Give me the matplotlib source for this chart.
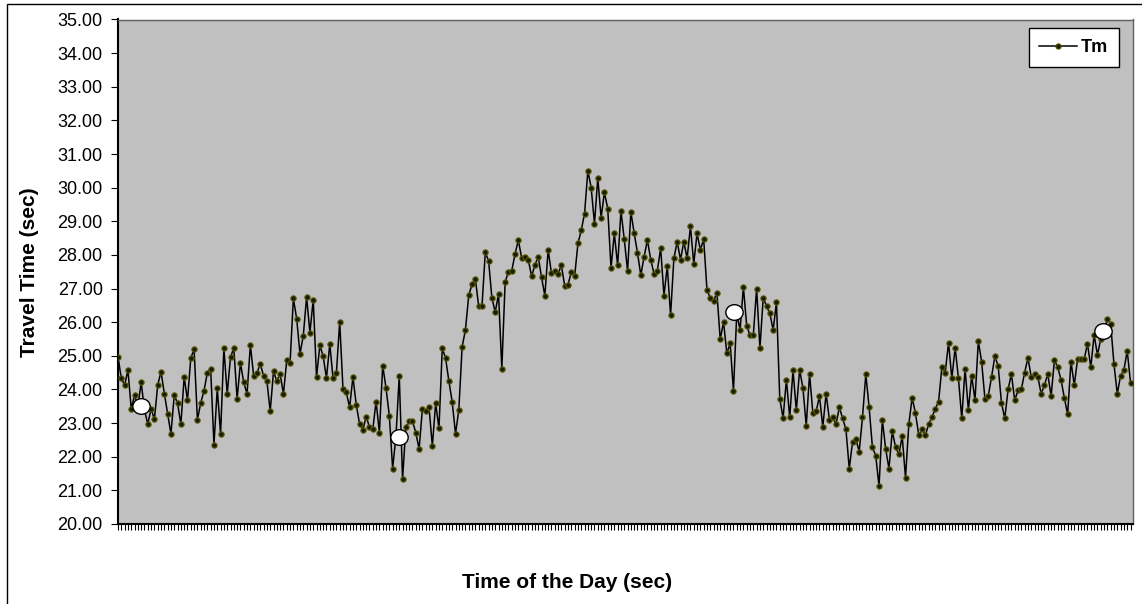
import numpy as np
import matplotlib
matplotlib.use('Agg')
import matplotlib.pyplot as plt
from matplotlib.path import Path
from matplotlib.transforms import Affine2D
from matplotlib.patches import Rectangle

plt.rcParams['font.family'] = ['Liberation Sans', 'DejaVu Sans']

# travel time per interval
tm = [
    24.97, 24.33, 24.13, 24.58, 23.42, 23.83, 23.49, 24.21, 23.39, 22.97,
    23.43, 23.11, 24.13, 24.53, 23.88, 23.27, 22.68, 23.83, 23.59, 22.97,
    24.37, 23.68, 24.94, 25.19, 23.10, 23.60, 23.96, 24.50, 24.62, 22.36,
    24.03, 22.68, 25.23, 23.87, 24.96, 25.23, 23.72, 24.79, 24.21, 23.87,
    25.32, 24.41, 24.50, 24.75, 24.41, 24.25, 23.35, 24.54, 24.25, 24.46,
    23.87, 24.87, 24.79,
    26.71, 26.10, 25.06, 25.60, 26.75, 25.69, 26.67, 24.37, 25.31, 24.99,
    24.34, 25.35, 24.33, 24.49, 26.01, 24.00, 23.91, 23.47, 24.37, 23.55,
    22.98, 22.80, 23.19, 22.89, 22.82, 23.64, 22.72, 24.71, 24.04, 23.22,
    21.65, 22.60, 24.41, 21.33, 22.89, 23.05, 23.05, 22.72, 22.23, 23.43,
    23.35, 23.47, 22.32, 23.59, 22.84, 25.23, 24.93, 24.25, 23.63, 22.68,
    23.39, 25.27, 25.77,
    26.80, 27.13, 27.29, 26.47, 26.47, 28.08, 27.82, 26.72, 26.30, 26.84,
    24.61, 27.20, 27.49, 27.53, 28.03, 28.44, 27.90, 27.95, 27.86, 27.36,
    27.70, 27.95, 27.33, 26.79, 28.15, 27.45, 27.53, 27.44, 27.69, 27.08,
    27.12, 27.49, 27.36, 28.34, 28.73, 29.23, 30.50, 30.00, 28.93, 30.29,
    29.10, 29.86, 29.38, 27.62, 28.64, 27.69, 29.31, 28.47, 27.53, 29.27,
    28.65, 28.06,
    27.40, 27.95, 28.44, 27.86, 27.44, 27.53, 28.20, 26.79, 27.66, 26.21,
    27.90, 28.39, 27.86, 28.39, 27.90, 28.85, 27.74, 28.64, 28.15, 28.47,
    26.96, 26.72, 26.63, 26.88, 25.49, 26.01, 25.07, 25.37, 23.96, 26.26,
    25.77, 27.05, 25.90, 25.61, 25.61, 27.00, 25.23, 26.73, 26.47, 26.26,
    25.77, 26.59, 23.72, 23.15, 24.29, 23.17, 24.57, 23.38,
    24.58, 24.04, 22.92, 24.46, 23.30, 23.35, 23.80, 22.89, 23.87, 23.10,
    23.17, 22.97, 23.47, 23.14, 22.81, 21.65, 22.44, 22.53, 22.15, 23.17,
    24.45, 23.47, 22.28, 22.03, 21.12, 23.10, 22.23, 21.65, 22.76, 22.28,
    22.07, 22.61, 21.37, 22.97, 23.75, 23.30, 22.64, 22.81, 22.64, 22.97,
    23.18, 23.43, 23.64, 24.67, 24.50, 25.39, 24.33, 25.24, 24.33, 23.14,
    24.62, 23.39, 24.41, 23.68, 25.44, 24.83, 23.72, 23.80, 24.37, 24.99,
    24.70, 23.60,
    23.14, 24.00, 24.46, 23.68, 23.97, 24.00, 24.50, 24.94, 24.37, 24.46,
    24.37, 23.87, 24.13, 24.46, 23.80, 24.87, 24.66, 24.29, 23.75, 23.26,
    24.83, 24.13, 24.90, 24.90, 24.90, 25.36, 24.66, 25.62, 25.03, 25.49,
    25.70, 26.09, 25.95, 24.75, 23.87, 24.41, 24.58, 25.15, 24.20,
]

# highlighted points (white circles): position along the axis and value
mark_pos = [6.8, 84.9, 186.3, 297.8]
mark_val = [23.52, 22.58, 26.31, 25.74]

y_ticks = np.arange(20, 36, 1)

x = np.arange(len(tm))

fig = plt.figure(figsize=(11.42, 6.04), dpi=100)
ax = fig.add_axes([118 / 1142, 1 - 524 / 604, 1014.5 / 1142, 504.5 / 604])
ax.set_facecolor('#c0c0c0')

# outer chart border
fig.patches.append(Rectangle((7 / 1142, -0.05), 1.2, 1 - 4 / 604 + 0.05,
                             transform=fig.transFigure, fill=False,
                             edgecolor='black', linewidth=1.0))

ax.plot(x, tm, color='black', linewidth=1.1, marker='o', markersize=3.8,
        markerfacecolor='#1a1a00', markeredgecolor='#5a5a0a',
        markeredgewidth=0.8, label='Tm', zorder=3)

ell = Path.unit_circle().transformed(Affine2D().scale(1.0, 0.9))
ax.plot(mark_pos, mark_val, linestyle='none', marker=ell, markersize=12.5,
        markerfacecolor='white', markeredgecolor='black',
        markeredgewidth=1.0, zorder=4)

ax.set_xlim(0, len(tm) - 0.4)
ax.set_ylim(20, 35)
ax.set_yticks(y_ticks)
ax.set_yticklabels(['%.2f' % v for v in y_ticks], fontsize=13)
ax.set_xticks(x)
ax.set_xticklabels([])
ax.tick_params(axis='x', direction='out', length=4, width=0.8)
ax.tick_params(axis='y', direction='out', length=5, width=0.8, pad=6)

for s in ['left', 'bottom']:
    ax.spines[s].set_linewidth(1.5)
    ax.spines[s].set_color('black')
for s in ['top', 'right']:
    ax.spines[s].set_linewidth(1.0)
    ax.spines[s].set_color('#606060')

ax.set_xlabel('Time of the Day (sec)', fontsize=15, fontweight='bold')
ax.set_ylabel('Travel Time (sec)', fontsize=15, fontweight='bold')
ax.xaxis.set_label_coords(0.4426, -0.097)
ax.yaxis.set_label_coords(-0.078, 0.5)

leg = ax.legend(loc='upper right', bbox_to_anchor=(0.9867, 0.983),
                borderaxespad=0, frameon=True, fancybox=False, framealpha=1,
                edgecolor='black', handlelength=2.1, handletextpad=0.2,
                borderpad=0.6, prop={'weight': 'bold', 'size': 13})
leg.get_frame().set_linewidth(1.0)

fig.savefig('out.png', dpi=100)
